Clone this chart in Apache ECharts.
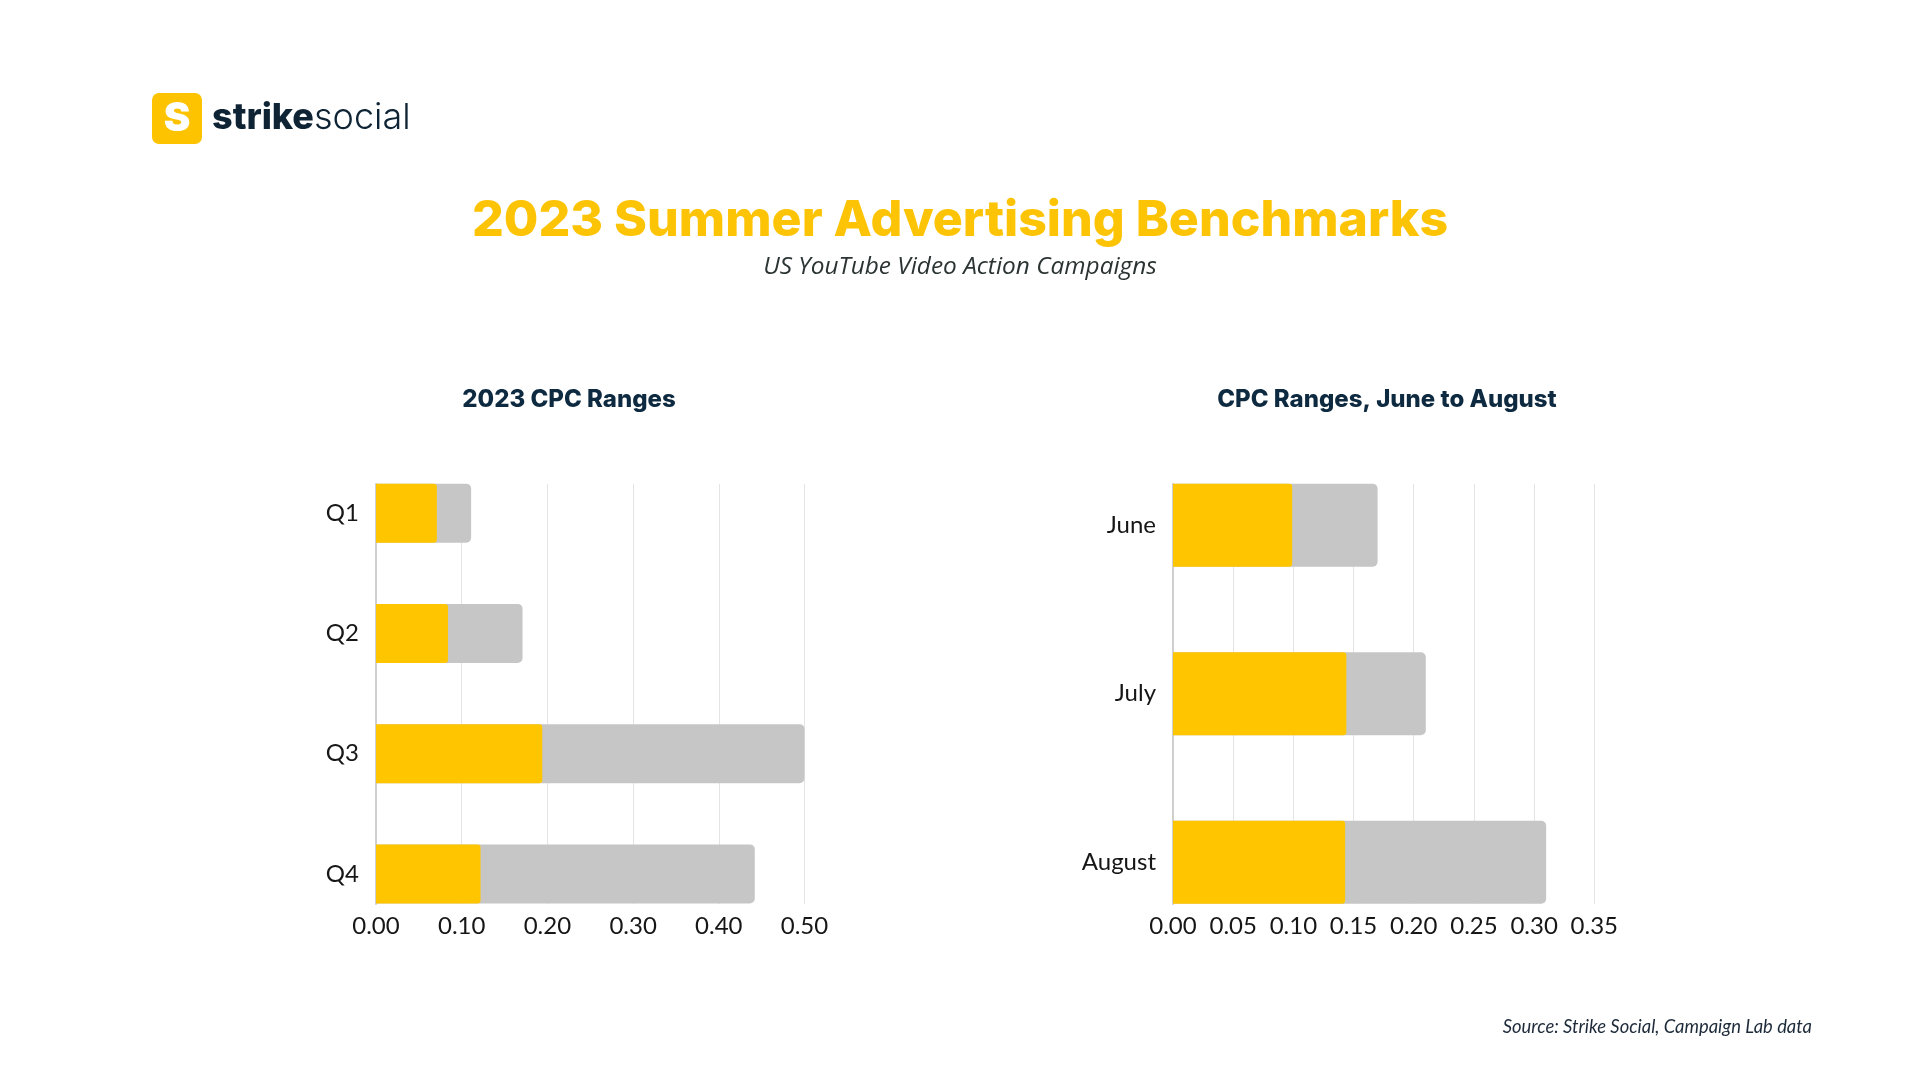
<!DOCTYPE html>
<html>
<head>
<meta charset="utf-8">
<script src="https://cdn.jsdelivr.net/npm/echarts@6/dist/echarts.min.js"></script>
<style>
html,body{margin:0;padding:0;background:#fff;}
#chart{width:1920px;height:1080px;}
</style>
</head>
<body>
<div id="chart"></div>
<script>
// ---- data ----
const quarters = ['Q1', 'Q2', 'Q3', 'Q4'];
const quarterLow = [0.071, 0.084, 0.194, 0.122];
const quarterHigh = [0.111, 0.171, 0.50, 0.442];
const months = ['June', 'July', 'August'];
const monthLow = [0.099, 0.144, 0.143];
const monthHigh = [0.170, 0.210, 0.310];
const leftTicks = { min: 0, max: 0.5, interval: 0.1 };
const rightTicks = { min: 0, max: 0.35, interval: 0.05 };

const YELLOW = '#ffc600';
const GRAY = '#c6c6c6';
const NAVY = '#0e2a40';
const LABEL = '#161616';

const chart = echarts.init(document.getElementById('chart'));

const fmt = v => v.toFixed(2);

const option = {
  backgroundColor: '#ffffff',
  animation: false,
  grid: [
    { left: 376, width: 428.5, top: 453, height: 481 },   // left bars
    { left: 376, width: 428.5, top: 484, height: 420 },   // left gridlines
    { left: 1173, width: 421.3, top: 441, height: 505.5 }, // right bars
    { left: 1173, width: 421.3, top: 484, height: 420 }    // right gridlines
  ],
  xAxis: [
    { gridIndex: 0, type: 'value', min: leftTicks.min, max: leftTicks.max, show: false },
    { gridIndex: 1, type: 'value', min: leftTicks.min, max: leftTicks.max, interval: leftTicks.interval,
      axisLine: { show: false }, axisTick: { show: false },
      splitLine: { show: true, lineStyle: { color: '#e4e4e4', width: 1 } },
      axisLabel: { formatter: fmt, fontFamily: 'Lato', fontSize: 24, color: LABEL, margin: 10 } },
    { gridIndex: 2, type: 'value', min: rightTicks.min, max: rightTicks.max, show: false },
    { gridIndex: 3, type: 'value', min: rightTicks.min, max: rightTicks.max, interval: rightTicks.interval,
      axisLine: { show: false }, axisTick: { show: false },
      splitLine: { show: true, lineStyle: { color: '#e4e4e4', width: 1 } },
      axisLabel: { formatter: fmt, fontFamily: 'Lato', fontSize: 24, color: LABEL, margin: 10 } }
  ],
  yAxis: [
    { gridIndex: 0, type: 'category', data: quarters, inverse: true,
      axisLine: { show: false }, axisTick: { show: false },
      axisLabel: { fontFamily: 'Lato', fontSize: 24, color: LABEL, margin: 17 } },
    { gridIndex: 1, type: 'value', min: 0, max: 1,
      axisLine: { show: true, lineStyle: { color: '#cfcfcf', width: 2 } },
      axisTick: { show: false }, axisLabel: { show: false }, splitLine: { show: false } },
    { gridIndex: 2, type: 'category', data: months, inverse: true,
      axisLine: { show: false }, axisTick: { show: false },
      axisLabel: { fontFamily: 'Lato', fontSize: 24, color: LABEL, margin: 17 } },
    { gridIndex: 3, type: 'value', min: 0, max: 1,
      axisLine: { show: true, lineStyle: { color: '#cfcfcf', width: 2 } },
      axisTick: { show: false }, axisLabel: { show: false }, splitLine: { show: false } }
  ],
  series: [
    { type: 'bar', xAxisIndex: 0, yAxisIndex: 0, data: quarterHigh, barWidth: 59, barGap: '-100%',
      itemStyle: { color: GRAY, borderRadius: [0, 5, 5, 0] }, z: 2 },
    { type: 'bar', xAxisIndex: 0, yAxisIndex: 0, data: quarterLow, barWidth: 59, barGap: '-100%',
      itemStyle: { color: YELLOW, borderRadius: [0, 3, 3, 0] }, z: 3 },
    { type: 'bar', xAxisIndex: 2, yAxisIndex: 2, data: monthHigh, barWidth: 83, barGap: '-100%',
      itemStyle: { color: GRAY, borderRadius: [0, 5, 5, 0] }, z: 2 },
    { type: 'bar', xAxisIndex: 2, yAxisIndex: 2, data: monthLow, barWidth: 83, barGap: '-100%',
      itemStyle: { color: YELLOW, borderRadius: [0, 3, 3, 0] }, z: 3 }
  ],
  graphic: [
    // logo
    { type: 'rect', left: 152, top: 93, shape: { width: 50, height: 51, r: 7 }, style: { fill: '#fdc300' } },
    { type: 'text', x: 177, y: 119, style: { text: 'S', fontFamily: 'Inter', fontWeight: 900, fontSize: 40,
      fill: '#ffffff', align: 'center', verticalAlign: 'middle' } },
    { type: 'text', x: 212, y: 118, style: {
      text: '{a|strike}{b|social}', verticalAlign: 'middle', align: 'left',
      rich: {
        a: { fontFamily: 'Inter', fontWeight: 800, fontSize: 36, fill: '#0e2435' },
        b: { fontFamily: 'Inter', fontWeight: 300, fontSize: 36, fill: '#0e2435' }
      } } },
    // titles
    { type: 'text', x: 960, y: 221, style: { text: '2023 Summer Advertising Benchmarks', fontFamily: 'Inter',
      fontWeight: 800, fontSize: 50, fill: '#fdc305', align: 'center', verticalAlign: 'middle' } },
    { type: 'text', x: 960, y: 267, style: { text: 'US YouTube Video Action Campaigns', fontFamily: 'Open Sans',
      fontStyle: 'italic', fontSize: 24.4, fill: '#2b3333', align: 'center', verticalAlign: 'middle' } },
    { type: 'text', x: 569, y: 400, style: { text: '2023 CPC Ranges', fontFamily: 'Inter',
      fontWeight: 800, fontSize: 24, fill: NAVY, align: 'center', verticalAlign: 'middle' } },
    { type: 'text', x: 1387, y: 400, style: { text: 'CPC Ranges, June to August', fontFamily: 'Inter',
      fontWeight: 800, fontSize: 24, fill: NAVY, align: 'center', verticalAlign: 'middle' } },
    { type: 'text', x: 1812, y: 1027, style: { text: 'Source: Strike Social, Campaign Lab data', fontFamily: 'Lato',
      fontStyle: 'italic', fontSize: 18.4, fill: '#1d2a3a', align: 'right', verticalAlign: 'middle' } }
  ]
};
chart.setOption(option);
</script>
</body>
</html>
